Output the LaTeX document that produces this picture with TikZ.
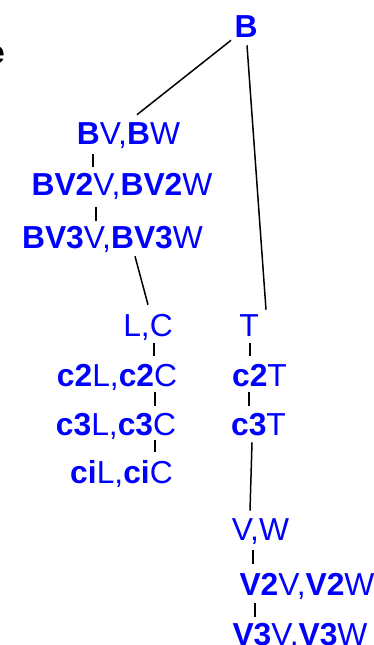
\documentclass[tikz,border=0pt]{standalone}
\usepackage{fontspec}
\setmainfont{Liberation Sans}
\begin{document}
\begin{tikzpicture}[x=1pt,y=-1pt,
  lbl/.style={text=blue, inner sep=0pt, outer sep=0pt, text height=22.6pt, text depth=0pt, font=\fontsize{31.8}{36}\selectfont},
  link/.style={draw=black, line width=1.5pt}]
\clip (0,0) rectangle (374,645);
\node[anchor=base east, inner sep=0pt, font=\fontsize{31.8}{36}\selectfont\bfseries] (e) at (5,63) {e};
\node[lbl] (B) at (246,26) {\textbf{B}};
\node[lbl] (bvbw) at (128.5,133) {\textbf{B}V,\textbf{B}W};
\node[lbl] (bv2) at (122,184.5) {\textbf{BV2}V,\textbf{BV2}W};
\node[lbl] (bv3) at (112.5,237.5) {\textbf{BV3}V,\textbf{BV3}W};
\node[lbl] (lc) at (148,325) {L,C};
\node[lbl] (t) at (249,325) {T};
\node[lbl] (c2l) at (117,375) {\textbf{c2}L,\textbf{c2}C};
\node[lbl] (c2t) at (259.5,375) {\textbf{c2}T};
\node[lbl] (c3l) at (116,424) {\textbf{c3}L,\textbf{c3}C};
\node[lbl] (c3t) at (258.5,424) {\textbf{c3}T};
\node[lbl] (cil) at (121.5,472) {\textbf{ci}L,\textbf{ci}C};
\node[lbl] (vw) at (260.5,529) {V,W};
\node[lbl] (v2) at (307,584.5) {\textbf{V2}V,\textbf{V2}W};
\node[lbl] (v3) at (300,634) {\textbf{V3}V,\textbf{V3}W};
\draw[link] ([xshift=-15pt,yshift=-3pt]B.south) -- ([xshift=8.5pt,yshift=7pt]bvbw.north);
\draw[link] ([xshift=1pt,yshift=-8pt]B.south) -- ([xshift=17pt,yshift=4pt]t.north);
\draw[link] ([xshift=-35.5pt,yshift=-10pt]bvbw.south) -- ([xshift=-29pt,yshift=6.5pt]bv2.north);
\draw[link] ([xshift=-26pt,yshift=-11.5pt]bv2.south) -- ([xshift=-16.5pt,yshift=5.5pt]bv3.north);
\draw[link] ([xshift=22.5pt,yshift=-7.5pt]bv3.south) -- ([xshift=0pt,yshift=9pt]lc.north);
\draw[link] ([xshift=6pt,yshift=-7pt]lc.south) -- ([xshift=37pt,yshift=8pt]c2l.north);
\draw[link] ([xshift=1pt,yshift=-7pt]t.south) -- ([xshift=-9.5pt,yshift=8pt]c2t.north);
\draw[link] ([xshift=38pt,yshift=-6pt]c2l.south) -- ([xshift=39pt,yshift=7pt]c3l.north);
\draw[link] ([xshift=-10.5pt,yshift=-6pt]c2t.south) -- ([xshift=-9.5pt,yshift=7pt]c3t.north);
\draw[link] ([xshift=39pt,yshift=-5pt]c3l.south) -- ([xshift=33.5pt,yshift=9pt]cil.north);
\draw[link] ([xshift=-6.5pt,yshift=-7pt]c3t.south) -- ([xshift=-10.5pt,yshift=7pt]vw.north);
\draw[link] ([xshift=-7.5pt,yshift=-10pt]vw.south) -- ([xshift=-54pt,yshift=9.5pt]v2.north);
\draw[link] ([xshift=-52pt,yshift=-7.5pt]v2.south) -- ([xshift=-45pt,yshift=6pt]v3.north);
\end{tikzpicture}
\end{document}
